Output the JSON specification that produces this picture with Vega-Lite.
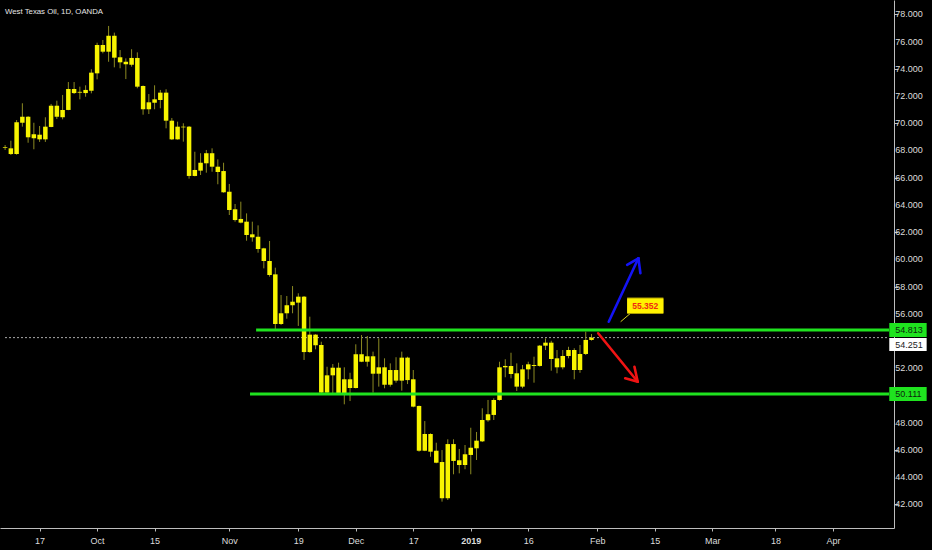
{
  "$schema": "https://vega.github.io/schema/vega-lite/v6.json",
  "width": 894,
  "height": 528,
  "autosize": {"type": "none"},
  "padding": {"left": 0, "top": 0, "right": 38, "bottom": 22},
  "background": "#000000",
  "config": {"view": {"stroke": null}, "font": "Liberation Sans", "axis": {"labelOverlap": false, "labelFlush": false}},
  "title": {
    "text": "West Texas Oil, 1D, OANDA",
    "anchor": "start",
    "frame": "group",
    "orient": "top",
    "offset": -14,
    "baseline": "alphabetic",
    "dx": 5,
    "dy": 8,
    "fontSize": 7.8,
    "fontWeight": "normal",
    "font": "Liberation Sans",
    "color": "#e6e6e6"
  },
  "datasets": {
    "candles": [
      {"d": "2018-09-07", "i": -6, "o": 68.20, "h": 68.40, "l": 68.04, "c": 68.25},
      {"d": "2018-09-10", "i": -5, "o": 68.16, "h": 68.72, "l": 67.67, "c": 67.74},
      {"d": "2018-09-11", "i": -4, "o": 67.74, "h": 70.24, "l": 67.69, "c": 70.07},
      {"d": "2018-09-12", "i": -3, "o": 70.04, "h": 71.47, "l": 69.75, "c": 70.48},
      {"d": "2018-09-13", "i": -2, "o": 70.48, "h": 70.52, "l": 68.57, "c": 68.97},
      {"d": "2018-09-14", "i": -1, "o": 68.90, "h": 70.04, "l": 68.09, "c": 69.19},
      {"d": "2018-09-17", "i": 0, "o": 69.16, "h": 69.80, "l": 68.63, "c": 68.82},
      {"d": "2018-09-18", "i": 1, "o": 68.82, "h": 70.44, "l": 68.63, "c": 69.75},
      {"d": "2018-09-19", "i": 2, "o": 69.73, "h": 71.42, "l": 69.71, "c": 71.29},
      {"d": "2018-09-20", "i": 3, "o": 71.29, "h": 71.66, "l": 70.31, "c": 70.48},
      {"d": "2018-09-21", "i": 4, "o": 70.44, "h": 72.08, "l": 70.29, "c": 70.98},
      {"d": "2018-09-24", "i": 5, "o": 70.98, "h": 73.03, "l": 70.96, "c": 72.52},
      {"d": "2018-09-25", "i": 6, "o": 72.52, "h": 73.03, "l": 72.15, "c": 72.22},
      {"d": "2018-09-26", "i": 7, "o": 72.25, "h": 72.69, "l": 71.76, "c": 72.31},
      {"d": "2018-09-27", "i": 8, "o": 72.22, "h": 72.79, "l": 71.95, "c": 72.45},
      {"d": "2018-09-28", "i": 9, "o": 72.39, "h": 73.97, "l": 72.20, "c": 73.72},
      {"d": "2018-10-01", "i": 10, "o": 73.67, "h": 75.92, "l": 73.23, "c": 75.75},
      {"d": "2018-10-02", "i": 11, "o": 75.75, "h": 76.12, "l": 75.14, "c": 75.26},
      {"d": "2018-10-03", "i": 12, "o": 75.26, "h": 77.15, "l": 74.52, "c": 76.43},
      {"d": "2018-10-04", "i": 13, "o": 76.43, "h": 76.66, "l": 74.11, "c": 74.82},
      {"d": "2018-10-05", "i": 14, "o": 74.85, "h": 75.38, "l": 74.04, "c": 74.48},
      {"d": "2018-10-08", "i": 15, "o": 74.52, "h": 74.77, "l": 73.25, "c": 74.33},
      {"d": "2018-10-09", "i": 16, "o": 74.30, "h": 75.44, "l": 74.16, "c": 74.80},
      {"d": "2018-10-10", "i": 17, "o": 74.80, "h": 75.21, "l": 72.57, "c": 72.69},
      {"d": "2018-10-11", "i": 18, "o": 72.74, "h": 72.78, "l": 70.63, "c": 71.03},
      {"d": "2018-10-12", "i": 19, "o": 71.03, "h": 72.15, "l": 70.68, "c": 71.54},
      {"d": "2018-10-15", "i": 20, "o": 71.51, "h": 72.79, "l": 71.03, "c": 71.76},
      {"d": "2018-10-16", "i": 21, "o": 71.71, "h": 72.45, "l": 71.10, "c": 72.25},
      {"d": "2018-10-17", "i": 22, "o": 72.25, "h": 72.50, "l": 69.63, "c": 70.19},
      {"d": "2018-10-18", "i": 23, "o": 70.19, "h": 70.39, "l": 68.77, "c": 68.82},
      {"d": "2018-10-19", "i": 24, "o": 68.82, "h": 70.12, "l": 68.80, "c": 69.75},
      {"d": "2018-10-22", "i": 25, "o": 69.75, "h": 70.00, "l": 68.65, "c": 69.70},
      {"d": "2018-10-23", "i": 26, "o": 69.75, "h": 69.80, "l": 65.93, "c": 66.13},
      {"d": "2018-10-24", "i": 27, "o": 66.13, "h": 67.91, "l": 66.10, "c": 66.57},
      {"d": "2018-10-25", "i": 28, "o": 66.52, "h": 67.80, "l": 66.20, "c": 67.10},
      {"d": "2018-10-26", "i": 29, "o": 67.06, "h": 68.04, "l": 66.37, "c": 67.80},
      {"d": "2018-10-29", "i": 30, "o": 67.80, "h": 68.16, "l": 66.44, "c": 66.81},
      {"d": "2018-10-30", "i": 31, "o": 66.81, "h": 67.35, "l": 65.52, "c": 66.42},
      {"d": "2018-10-31", "i": 32, "o": 66.49, "h": 67.10, "l": 64.90, "c": 64.93},
      {"d": "2018-11-01", "i": 33, "o": 64.97, "h": 65.54, "l": 63.26, "c": 63.63},
      {"d": "2018-11-02", "i": 34, "o": 63.68, "h": 64.07, "l": 62.77, "c": 62.89},
      {"d": "2018-11-05", "i": 35, "o": 62.97, "h": 64.24, "l": 62.65, "c": 62.70},
      {"d": "2018-11-06", "i": 36, "o": 62.77, "h": 63.38, "l": 61.37, "c": 61.79},
      {"d": "2018-11-07", "i": 37, "o": 61.84, "h": 62.77, "l": 61.30, "c": 61.62},
      {"d": "2018-11-08", "i": 38, "o": 61.67, "h": 62.50, "l": 60.49, "c": 60.76},
      {"d": "2018-11-09", "i": 39, "o": 60.81, "h": 60.85, "l": 59.34, "c": 59.88},
      {"d": "2018-11-12", "i": 40, "o": 59.88, "h": 61.35, "l": 58.73, "c": 58.85},
      {"d": "2018-11-13", "i": 41, "o": 58.90, "h": 59.39, "l": 54.86, "c": 55.25},
      {"d": "2018-11-14", "i": 42, "o": 55.25, "h": 57.38, "l": 55.18, "c": 56.04},
      {"d": "2018-11-15", "i": 43, "o": 56.04, "h": 57.31, "l": 55.64, "c": 56.63},
      {"d": "2018-11-16", "i": 44, "o": 56.63, "h": 58.04, "l": 56.04, "c": 56.89},
      {"d": "2018-11-19", "i": 45, "o": 56.82, "h": 57.51, "l": 55.11, "c": 57.26},
      {"d": "2018-11-20", "i": 46, "o": 57.26, "h": 57.31, "l": 52.61, "c": 53.19},
      {"d": "2018-11-21", "i": 47, "o": 53.19, "h": 55.79, "l": 53.14, "c": 54.47},
      {"d": "2018-11-22", "i": 48, "o": 54.47, "h": 54.50, "l": 53.39, "c": 53.69},
      {"d": "2018-11-23", "i": 49, "o": 53.71, "h": 53.95, "l": 50.16, "c": 50.21},
      {"d": "2018-11-26", "i": 50, "o": 50.21, "h": 52.11, "l": 50.18, "c": 51.48},
      {"d": "2018-11-27", "i": 51, "o": 51.48, "h": 52.31, "l": 50.16, "c": 52.04},
      {"d": "2018-11-28", "i": 52, "o": 52.04, "h": 52.41, "l": 50.11, "c": 50.16},
      {"d": "2018-11-29", "i": 53, "o": 50.16, "h": 52.07, "l": 49.35, "c": 51.19},
      {"d": "2018-11-30", "i": 54, "o": 51.19, "h": 51.67, "l": 49.59, "c": 50.55},
      {"d": "2018-12-03", "i": 55, "o": 50.55, "h": 53.76, "l": 50.52, "c": 53.03},
      {"d": "2018-12-04", "i": 56, "o": 53.03, "h": 54.44, "l": 52.45, "c": 52.48},
      {"d": "2018-12-05", "i": 57, "o": 52.48, "h": 54.37, "l": 52.12, "c": 52.88},
      {"d": "2018-12-06", "i": 58, "o": 52.88, "h": 53.22, "l": 50.21, "c": 51.60},
      {"d": "2018-12-07", "i": 59, "o": 51.60, "h": 54.20, "l": 50.65, "c": 52.07},
      {"d": "2018-12-10", "i": 60, "o": 52.07, "h": 52.73, "l": 50.53, "c": 50.79},
      {"d": "2018-12-11", "i": 61, "o": 50.79, "h": 52.36, "l": 50.65, "c": 51.87},
      {"d": "2018-12-12", "i": 62, "o": 51.87, "h": 52.81, "l": 50.94, "c": 51.09},
      {"d": "2018-12-13", "i": 63, "o": 51.09, "h": 53.22, "l": 50.35, "c": 52.78},
      {"d": "2018-12-14", "i": 64, "o": 52.78, "h": 52.85, "l": 50.84, "c": 51.13},
      {"d": "2018-12-17", "i": 65, "o": 51.19, "h": 51.87, "l": 49.13, "c": 49.18},
      {"d": "2018-12-18", "i": 66, "o": 49.23, "h": 49.26, "l": 45.87, "c": 45.94},
      {"d": "2018-12-19", "i": 67, "o": 45.94, "h": 48.12, "l": 45.91, "c": 47.17},
      {"d": "2018-12-20", "i": 68, "o": 47.17, "h": 47.22, "l": 45.50, "c": 45.87},
      {"d": "2018-12-21", "i": 69, "o": 45.94, "h": 46.53, "l": 45.02, "c": 45.06},
      {"d": "2018-12-24", "i": 70, "o": 45.11, "h": 45.99, "l": 42.20, "c": 42.45},
      {"d": "2018-12-26", "i": 71, "o": 42.45, "h": 46.78, "l": 42.32, "c": 46.43},
      {"d": "2018-12-27", "i": 72, "o": 46.43, "h": 46.78, "l": 44.21, "c": 45.19},
      {"d": "2018-12-28", "i": 73, "o": 45.24, "h": 46.07, "l": 44.28, "c": 44.89},
      {"d": "2018-12-31", "i": 74, "o": 44.89, "h": 46.36, "l": 44.58, "c": 45.68},
      {"d": "2019-01-02", "i": 75, "o": 45.63, "h": 47.63, "l": 44.21, "c": 46.16},
      {"d": "2019-01-03", "i": 76, "o": 46.12, "h": 47.32, "l": 45.26, "c": 46.68},
      {"d": "2019-01-04", "i": 77, "o": 46.63, "h": 49.06, "l": 46.58, "c": 48.20},
      {"d": "2019-01-07", "i": 78, "o": 48.18, "h": 49.67, "l": 48.07, "c": 48.62},
      {"d": "2019-01-08", "i": 79, "o": 48.57, "h": 49.79, "l": 48.20, "c": 49.67},
      {"d": "2019-01-09", "i": 80, "o": 49.67, "h": 52.48, "l": 49.62, "c": 52.07},
      {"d": "2019-01-10", "i": 81, "o": 52.07, "h": 52.66, "l": 51.34, "c": 52.17},
      {"d": "2019-01-11", "i": 82, "o": 52.17, "h": 53.14, "l": 51.26, "c": 51.58},
      {"d": "2019-01-14", "i": 83, "o": 51.63, "h": 52.36, "l": 50.33, "c": 50.65},
      {"d": "2019-01-15", "i": 84, "o": 50.65, "h": 52.24, "l": 50.53, "c": 51.92},
      {"d": "2019-01-16", "i": 85, "o": 51.92, "h": 52.48, "l": 51.19, "c": 52.29},
      {"d": "2019-01-17", "i": 86, "o": 52.24, "h": 52.85, "l": 50.94, "c": 52.17},
      {"d": "2019-01-18", "i": 87, "o": 52.17, "h": 53.71, "l": 52.12, "c": 53.66},
      {"d": "2019-01-21", "i": 88, "o": 53.66, "h": 54.20, "l": 53.34, "c": 53.88},
      {"d": "2019-01-22", "i": 89, "o": 53.88, "h": 54.02, "l": 51.82, "c": 52.68},
      {"d": "2019-01-23", "i": 90, "o": 52.73, "h": 53.34, "l": 51.63, "c": 52.07},
      {"d": "2019-01-24", "i": 91, "o": 52.07, "h": 53.34, "l": 51.92, "c": 52.90},
      {"d": "2019-01-25", "i": 92, "o": 52.90, "h": 53.58, "l": 52.73, "c": 53.34},
      {"d": "2019-01-28", "i": 93, "o": 53.34, "h": 53.47, "l": 51.19, "c": 51.87},
      {"d": "2019-01-29", "i": 94, "o": 51.87, "h": 53.71, "l": 51.67, "c": 53.05},
      {"d": "2019-01-30", "i": 95, "o": 53.05, "h": 54.69, "l": 52.97, "c": 54.08},
      {"d": "2019-01-31", "i": 96, "o": 54.08, "h": 54.52, "l": 54.03, "c": 54.25}
    ],
    "yticks": [
      {"v": 42, "t": "42.000"}, {"v": 44, "t": "44.000"}, {"v": 46, "t": "46.000"},
      {"v": 48, "t": "48.000"}, {"v": 52, "t": "52.000"}, {"v": 56, "t": "56.000"},
      {"v": 58, "t": "58.000"}, {"v": 60, "t": "60.000"}, {"v": 62, "t": "62.000"},
      {"v": 64, "t": "64.000"}, {"v": 66, "t": "66.000"}, {"v": 68, "t": "68.000"},
      {"v": 70, "t": "70.000"}, {"v": 72, "t": "72.000"}, {"v": 74, "t": "74.000"},
      {"v": 76, "t": "76.000"}, {"v": 78, "t": "78.000"}
    ],
    "levels": [
      {"name": "resistance", "price": 54.813, "from": 37.66, "to": 147.75, "label": "54.813"},
      {"name": "support", "price": 50.111, "from": 36.6, "to": 147.75, "label": "50.111"}
    ],
    "last": [
      {"price": 54.251, "from": -6.02, "to": 147.75, "label": "54.251"}
    ],
    "arrows": [
      {"dir": "up", "x": 99.0, "y": 55.42, "x2": 104.16, "y2": 60.08},
      {"dir": "up", "x": 102.2, "y": 59.59, "x2": 104.16, "y2": 60.08},
      {"dir": "up", "x": 104.51, "y": 58.98, "x2": 104.16, "y2": 60.08},
      {"dir": "down", "x": 97.16, "y": 54.57, "x2": 104.04, "y2": 51.01},
      {"dir": "down", "x": 101.86, "y": 51.26, "x2": 104.04, "y2": 51.01},
      {"dir": "down", "x": 103.47, "y": 52.11, "x2": 104.04, "y2": 51.01}
    ],
    "callout": [
      {"label": "55.352", "from": 102.2, "to": 108.51, "mid": 105.35, "price": 56.59, "px": 102.79, "py": 56.04, "px2": 101.07, "py2": 55.42}
    ]
  },
  "layer": [
    {
      "data": {"name": "last"},
      "mark": {"type": "rule", "color": "#a8a8a8", "strokeWidth": 1, "strokeDash": [2, 2]},
      "encoding": {
        "x": {"field": "from", "type": "quantitative",
          "scale": {"domain": [-6.02, 147.75], "nice": false, "zero": false},
          "axis": {
            "orient": "bottom",
            "title": null,
            "grid": false,
            "values": [0, 10, 20, 33, 45, 55, 65, 75, 85, 97, 107, 117, 128, 138],
            "labelExpr": "['17','Oct','15','Nov','19','Dec','17','2019','16','Feb','15','Mar','18','Apr'][indexof([0,10,20,33,45,55,65,75,85,97,107,117,128,138], datum.value)]",
            "labelFontWeight": {"condition": {"test": "datum.value == 75", "value": "bold"}, "value": "normal"},
            "labelColor": "#dcdcdc",
            "labelFontSize": 9,
            "labelFont": "Liberation Sans",
            "labelPadding": 5,
            "labelFlush": false,
            "labelOverlap": false,
            "tickSize": 3,
            "tickColor": "#bdbdbd",
            "domainColor": "#bdbdbd",
            "domainWidth": 1
          }
        },
        "x2": {"field": "to"},
        "y": {"field": "price", "type": "quantitative",
          "scale": {"domain": [40.263, 79.058], "nice": false, "zero": false},
          "axis": {
            "orient": "right",
            "title": null,
            "grid": false,
            "values": [42, 44, 46, 48, 50, 52, 54, 56, 58, 60, 62, 64, 66, 68, 70, 72, 74, 76, 78],
            "labels": false,
            "tickSize": 4,
            "tickColor": "#bdbdbd",
            "domainColor": "#bdbdbd",
            "domainWidth": 1
          }
        }
      }
    },
    {
      "data": {"name": "yticks"},
      "mark": {"type": "text", "color": "#dcdcdc", "fontSize": 9, "align": "left", "baseline": "middle", "font": "Liberation Sans"},
      "encoding": {
        "x": {"datum": 148.85, "type": "quantitative", "title": null},
        "y": {"field": "v", "type": "quantitative", "title": null},
        "text": {"field": "t"}
      }
    },
    {
      "data": {"name": "candles"},
      "mark": {"type": "rule", "color": "#8c8a22", "strokeWidth": 1, "clip": true},
      "encoding": {
        "x": {"field": "i", "type": "quantitative", "title": null},
        "y": {"field": "l", "type": "quantitative", "title": null},
        "y2": {"field": "h"}
      }
    },
    {
      "data": {"name": "candles"},
      "mark": {"type": "bar", "color": "#f8f400", "size": 4.5, "clip": true},
      "encoding": {
        "x": {"field": "i", "type": "quantitative", "title": null},
        "y": {"field": "o", "type": "quantitative", "title": null},
        "y2": {"field": "c"},
        "tooltip": [{"field": "d"}, {"field": "o"}, {"field": "h"}, {"field": "l"}, {"field": "c"}]
      }
    },
    {
      "data": {"name": "levels"},
      "mark": {"type": "rule", "color": "#1fe31f", "strokeWidth": 3},
      "encoding": {
        "x": {"field": "from", "type": "quantitative", "title": null},
        "x2": {"field": "to"},
        "y": {"field": "price", "type": "quantitative", "title": null}
      }
    },
    {
      "data": {"name": "levels"},
      "mark": {"type": "rule", "color": "#1fe31f", "strokeWidth": 14, "strokeCap": "butt"},
      "encoding": {
        "x": {"datum": 147.8, "type": "quantitative", "title": null},
        "x2": {"datum": 154.3},
        "y": {"field": "price", "type": "quantitative", "title": null}
      }
    },
    {
      "data": {"name": "levels"},
      "mark": {"type": "text", "color": "#0c260c", "fontSize": 9, "align": "left", "baseline": "middle", "font": "Liberation Sans"},
      "encoding": {
        "x": {"datum": 148.85, "type": "quantitative", "title": null},
        "y": {"field": "price", "type": "quantitative", "title": null},
        "text": {"field": "label"}
      }
    },
    {
      "data": {"name": "last"},
      "mark": {"type": "rule", "color": "#ffffff", "strokeWidth": 13, "strokeCap": "butt", "yOffset": 7},
      "encoding": {
        "x": {"datum": 147.8, "type": "quantitative", "title": null},
        "x2": {"datum": 154.3},
        "y": {"field": "price", "type": "quantitative", "title": null}
      }
    },
    {
      "data": {"name": "last"},
      "mark": {"type": "text", "color": "#222222", "fontSize": 9, "align": "left", "baseline": "middle", "yOffset": 7, "font": "Liberation Sans"},
      "encoding": {
        "x": {"datum": 148.85, "type": "quantitative", "title": null},
        "y": {"field": "price", "type": "quantitative", "title": null},
        "text": {"field": "label"}
      }
    },
    {
      "data": {"name": "arrows"},
      "mark": {"type": "rule", "strokeWidth": 2.6, "strokeCap": "round"},
      "encoding": {
        "x": {"field": "x", "type": "quantitative", "title": null},
        "x2": {"field": "x2"},
        "y": {"field": "y", "type": "quantitative", "title": null},
        "y2": {"field": "y2"},
        "color": {"field": "dir", "type": "nominal", "scale": {"domain": ["up", "down"], "range": ["#1414f5", "#f01414"]}, "legend": null}
      }
    },
    {
      "data": {"name": "callout"},
      "mark": {"type": "rule", "color": "#d8d020", "strokeWidth": 1},
      "encoding": {
        "x": {"field": "px", "type": "quantitative", "title": null},
        "x2": {"field": "px2"},
        "y": {"field": "py", "type": "quantitative", "title": null},
        "y2": {"field": "py2"}
      }
    },
    {
      "data": {"name": "callout"},
      "mark": {"type": "rule", "color": "#a89a00", "strokeWidth": 16.5, "strokeCap": "butt"},
      "encoding": {
        "x": {"field": "from", "type": "quantitative", "title": null},
        "x2": {"field": "to"},
        "y": {"field": "price", "type": "quantitative", "title": null}
      }
    },
    {
      "data": {"name": "callout"},
      "mark": {"type": "rule", "color": "#fff200", "strokeWidth": 14.5, "strokeCap": "butt"},
      "encoding": {
        "x": {"field": "from", "type": "quantitative", "title": null},
        "x2": {"field": "to"},
        "y": {"field": "price", "type": "quantitative", "title": null}
      }
    },
    {
      "data": {"name": "callout"},
      "mark": {"type": "text", "color": "#f02a10", "fontSize": 8.5, "fontWeight": "bold", "align": "center", "baseline": "middle", "font": "Liberation Sans"},
      "encoding": {
        "x": {"field": "mid", "type": "quantitative", "title": null},
        "y": {"field": "price", "type": "quantitative", "title": null},
        "text": {"field": "label"}
      }
    }
  ]
}
